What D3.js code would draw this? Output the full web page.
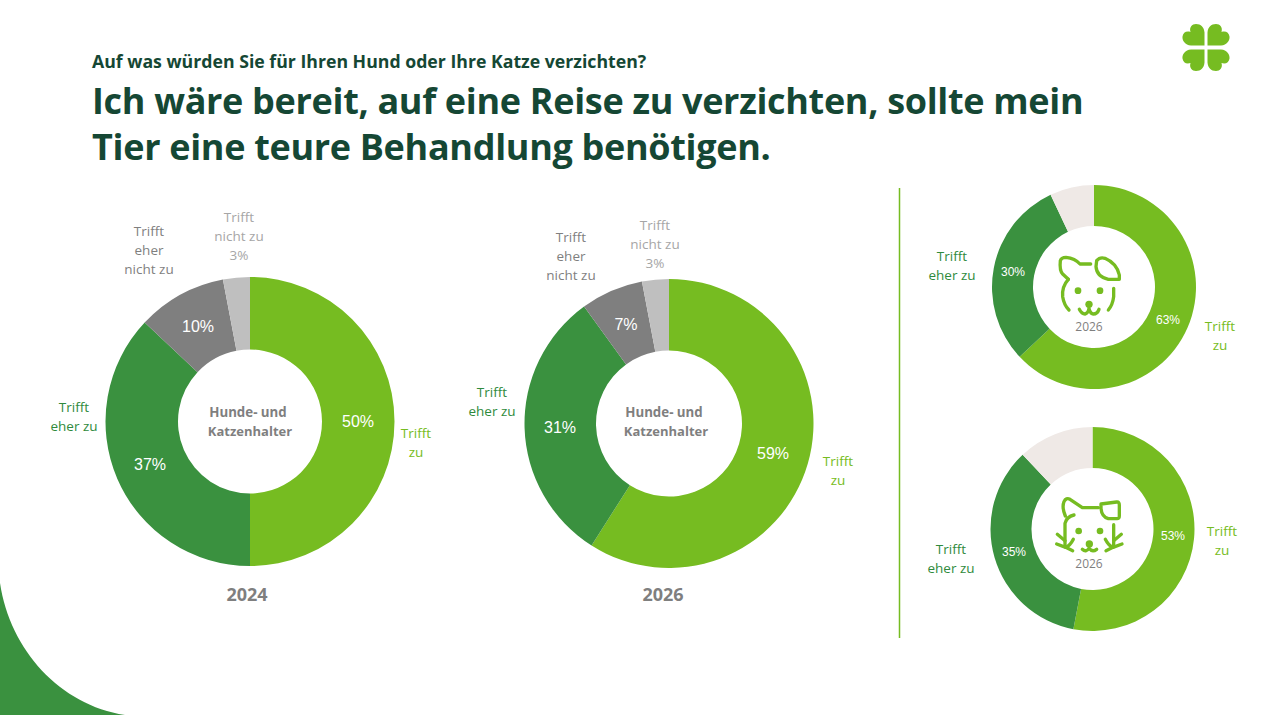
<!DOCTYPE html>
<html>
<head>
<meta charset="utf-8">
<script src="https://cdn.jsdelivr.net/npm/d3@7"></script>
<style>
  html, body { margin: 0; padding: 0; background: #fff; }
  svg { display: block; }
  text { font-family: "Open Sans", sans-serif; }
</style>
</head>
<body>
<svg width="1272" height="715"></svg>
<script>
const answers = ['zu', 'eher zu', 'eher nicht zu', 'nicht zu'];
const values2024 = [50, 37, 10, 3];
const values2026 = [59, 31, 7, 3];
const answersSmall = ['zu', 'eher zu', 'rest'];
const valuesDog = [63, 30, 7];
const valuesCat = [53, 35, 12];

const bigColors = d3.scaleOrdinal(answers, ['#76bc21', '#3a913f', '#7f7f7f', '#bfbfbf']);
const smallColors = d3.scaleOrdinal(answersSmall, ['#76bc21', '#3a913f', '#efe9e6']);
const green = '#76bc21';
const dark = '#154734';

const svg = d3.select('svg');

// background curve bottom left
svg.append('path')
  .attr('d', 'M0 583 C 10 650 60 705 125 715 L 0 715 Z')
  .attr('fill', '#3a913f');

// clover logo
const clover = svg.append('g').attr('transform', 'translate(1206,47.5)');
[[1, 1], [-1, 1], [1, -1], [-1, -1]].forEach(([sx, sy]) => {
  clover.append('path')
    .attr('transform', `scale(${sx},${sy})`)
    .attr('d', 'M-1.5 -2 L-15 -2 C-21 -2.5 -24 -7 -23.5 -11 C-23 -15 -19.5 -17 -15.5 -15.5 C-17 -20 -14 -23.5 -10 -23.5 C-5 -23.5 -2 -20.5 -1.5 -15 Z')
    .attr('fill', green);
});

svg.append('text').attr('x', 92).attr('y', 68)
  .attr('font-size', 17.7).attr('font-weight', 700).attr('fill', dark)
  .text('Auf was würden Sie für Ihren Hund oder Ihre Katze verzichten?');
svg.append('text').attr('x', 92).attr('y', 114)
  .attr('font-size', 36).attr('font-weight', 700).attr('fill', dark)
  .attr('letter-spacing', -0.32)
  .text('Ich wäre bereit, auf eine Reise zu verzichten, sollte mein');
svg.append('text').attr('x', 92).attr('y', 160)
  .attr('font-size', 36).attr('font-weight', 700).attr('fill', dark)
  .attr('letter-spacing', -0.32)
  .text('Tier eine teure Behandlung benötigen.');

svg.append('line')
  .attr('x1', 899.5).attr('x2', 899.5).attr('y1', 188).attr('y2', 638)
  .attr('stroke', green).attr('stroke-width', 1.5);

function drawLines(x, y, lines, color, size, weight, step) {
  const t = svg.append('text')
    .attr('text-anchor', 'middle')
    .attr('font-size', size)
    .attr('font-weight', weight || 400)
    .attr('fill', color);
  lines.forEach((line, i) => {
    t.append('tspan')
      .attr('x', x)
      .attr('y', y + i * (step || 19))
      .attr('dy', '0.35em')
      .text(line);
  });
}

function drawDonut(cfg) {
  const pie = d3.pie().sort(null).value((d) => d.value);
  const arc = d3.arc().innerRadius(cfg.inner).outerRadius(cfg.outer);
  const data = cfg.keys.map((k, i) => ({ key: k, value: cfg.values[i] }));
  const g = svg.append('g').attr('transform', `translate(${cfg.cx},${cfg.cy})`);

  g.selectAll('path')
    .data(pie(data))
    .join('path')
    .attr('d', arc)
    .attr('fill', (d) => cfg.colors(d.data.key));

  cfg.pct.forEach(([i, x, y]) => {
    svg.append('text')
      .attr('x', x).attr('y', y).attr('dy', '0.35em')
      .attr('text-anchor', 'middle')
      .style('font-family', '"Liberation Sans", Arial, sans-serif')
      .attr('font-size', cfg.pctSize)
      .attr('fill', '#fff')
      .text(cfg.values[i] + '%');
  });
}

drawDonut({
  cx: 250, cy: 421.5, outer: 144.5, inner: 72, keys: answers, values: values2024, colors: bigColors,
  pctSize: 16, pct: [[0, 358, 421], [1, 150, 464], [2, 198, 326]],
});
drawDonut({
  cx: 669, cy: 423.5, outer: 144.5, inner: 73, keys: answers, values: values2026, colors: bigColors,
  pctSize: 16, pct: [[0, 773, 453], [1, 560, 427], [2, 626, 324]],
});
drawDonut({
  cx: 1094, cy: 287, outer: 102, inner: 61, keys: answersSmall, values: valuesDog, colors: smallColors,
  pctSize: 12, pct: [[0, 1168, 320], [1, 1013, 272]],
});
drawDonut({
  cx: 1092.5, cy: 529, outer: 102, inner: 61, keys: answersSmall, values: valuesCat, colors: smallColors,
  pctSize: 12, pct: [[0, 1173, 536], [1, 1014, 552]],
});

// outside labels
const lightGreen = '#76bc21', midGreen = '#2f8a3c', gray = '#7f7f7f', lightGray = '#a6a6a6';
const labelSize = 13.5;
drawLines(416, 433, ['Trifft', 'zu'], lightGreen, labelSize);
drawLines(74, 407, ['Trifft', 'eher zu'], midGreen, labelSize);
drawLines(149, 231, ['Trifft', 'eher', 'nicht zu'], gray, labelSize);
drawLines(239, 217, ['Trifft', 'nicht zu', values2024[3] + '%'], lightGray, labelSize);
drawLines(838, 461, ['Trifft', 'zu'], lightGreen, labelSize);
drawLines(492, 392, ['Trifft', 'eher zu'], midGreen, labelSize);
drawLines(571, 237, ['Trifft', 'eher', 'nicht zu'], gray, labelSize);
drawLines(655, 225, ['Trifft', 'nicht zu', values2026[3] + '%'], lightGray, labelSize);
drawLines(952, 256, ['Trifft', 'eher zu'], midGreen, labelSize);
drawLines(1220, 326, ['Trifft', 'zu'], lightGreen, labelSize);
drawLines(951, 549, ['Trifft', 'eher zu'], midGreen, labelSize);
drawLines(1222, 531, ['Trifft', 'zu'], lightGreen, labelSize);

// centre and year labels
drawLines(248, 412, ['Hunde- und'], gray, 13.3, 700);
drawLines(250, 431, ['Katzenhalter'], gray, 13, 700);
drawLines(664, 412, ['Hunde- und'], gray, 13.3, 700);
drawLines(666, 431, ['Katzenhalter'], gray, 13, 700);
drawLines(247, 595, ['2024'], gray, 18, 700);
drawLines(663, 595, ['2026'], gray, 18, 700);
drawLines(1089, 327, ['2026'], gray, 12);
drawLines(1089, 564, ['2026'], gray, 12);

// pet icons, traced at 3x so they are scaled down here
function drawIcon(x, y, strokes, dots) {
  const g = svg.append('g')
    .attr('transform', `translate(${x},${y}) scale(${1 / 3})`)
    .attr('fill', 'none')
    .attr('stroke', green)
    .attr('stroke-width', 10)
    .attr('stroke-linecap', 'round')
    .attr('stroke-linejoin', 'round');
  strokes.forEach((d) => g.append('path').attr('d', d));
  dots.forEach(([cx, cy, r]) => {
    g.append('circle').attr('cx', cx).attr('cy', cy).attr('r', r)
      .attr('fill', green).attr('stroke', 'none');
  });
}

drawIcon(1000, 180, [
  'M205 298 L188 282 Q178 272 181 242 Q184 232 198 232 Q225 235 240 252 L272 252',
  'M290 242 Q300 230 315 235 Q350 250 358 285 L358 298 L325 298 Q290 290 288 260 Z',
  'M205 298 Q185 320 188 350 Q192 375 207 390',
  'M341 325 L341 350 Q338 375 325 390',
  'M238 388 Q245 402 255 402 Q265 400 267 385 Q270 400 280 402 Q292 402 297 388',
], [[234, 332, 10], [300, 332, 10], [267, 373, 11]]);

drawIcon(1000, 420, [
  'M196 288 Q185 262 192 245 Q198 232 210 238 L247 263 L295 263',
  'M303 252 L350 246 Q358 245 358 255 L358 288 Q358 297 350 296 L325 296 Q305 290 303 265 Z',
  'M222 285 Q200 290 195 310 L195 380',
  'M172 343 L195 362',
  'M170 372 L197 382 Q210 378 220 358',
  'M197 382 L218 392',
  'M341 314 L341 380',
  'M364 343 L341 362',
  'M366 372 L339 382 Q326 378 316 358',
  'M339 382 L318 392',
  'M247 388 Q258 398 267 385 Q277 398 290 388',
], [[236, 333, 10], [300, 333, 10], [268, 372, 11]]);
</script>
</body>
</html>
